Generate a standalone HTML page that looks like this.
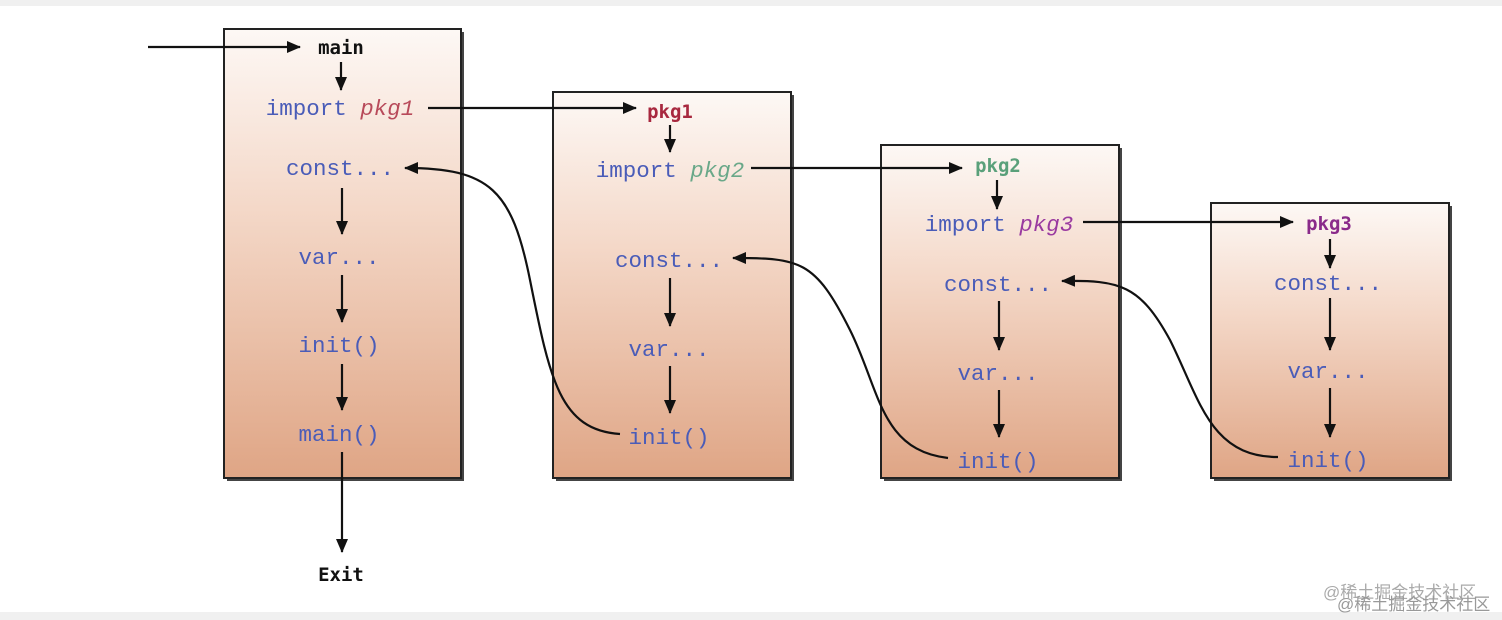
<!DOCTYPE html>
<html><head><meta charset="utf-8"><style>
body{margin:0;width:1502px;height:620px;background:#fff;overflow:hidden;position:relative}
svg{position:absolute;left:0;top:0}
text{font-family:"Liberation Mono","DejaVu Sans Mono",monospace;font-size:22.5px}
.b{fill:#4a5cb8}
.k{fill:#111;font-weight:bold;font-family:"DejaVu Sans Mono",monospace;font-size:19px}
</style></head><body>
<svg width="1502" height="620" viewBox="0 0 1502 620">
<defs>
<linearGradient id="g" x1="0" y1="0" x2="0" y2="1">
<stop offset="0" stop-color="#fdf8f5"/><stop offset="0.4" stop-color="#f4d8c8"/><stop offset="1" stop-color="#dfa585"/>
</linearGradient>
<marker id="a" markerWidth="10" markerHeight="10" refX="9" refY="5" orient="auto" markerUnits="userSpaceOnUse" viewBox="0 0 10 10">
<path d="M0,0 L10,5 L0,10 z" fill="#111"/></marker>
<marker id="a2" markerWidth="14" markerHeight="12" refX="13" refY="6" orient="auto" markerUnits="userSpaceOnUse" viewBox="0 0 14 12">
<path d="M0,0 L14,6 L0,12 z" fill="#111"/></marker>
</defs>
<rect x="0" y="0" width="1502" height="6" fill="#f0f0f0"/>
<rect x="0" y="612" width="1502" height="8" fill="#f0f0f0"/>
<g stroke="#222" stroke-width="2">
<rect x="227" y="32" width="237" height="449" fill="#444" stroke="none"/>
<rect x="224" y="29" width="237" height="449" fill="url(#g)"/>
<rect x="556" y="95" width="238" height="386" fill="#444" stroke="none"/>
<rect x="553" y="92" width="238" height="386" fill="url(#g)"/>
<rect x="884" y="148" width="238" height="333" fill="#444" stroke="none"/>
<rect x="881" y="145" width="238" height="333" fill="url(#g)"/>
<rect x="1214" y="206" width="238" height="275" fill="#444" stroke="none"/>
<rect x="1211" y="203" width="238" height="275" fill="url(#g)"/>
</g>
<g stroke="#111" stroke-width="2.2" fill="none">
<line x1="148" y1="47" x2="300" y2="47" marker-end="url(#a2)"/>
<line x1="341" y1="62" x2="341" y2="90" marker-end="url(#a2)"/>
<line x1="342" y1="188" x2="342" y2="234" marker-end="url(#a2)"/>
<line x1="342" y1="275" x2="342" y2="322" marker-end="url(#a2)"/>
<line x1="342" y1="364" x2="342" y2="410" marker-end="url(#a2)"/>
<line x1="342" y1="452" x2="342" y2="552" marker-end="url(#a2)"/>
<line x1="428" y1="108" x2="636" y2="108" marker-end="url(#a2)"/>
<line x1="670" y1="125" x2="670" y2="152" marker-end="url(#a2)"/>
<line x1="670" y1="278" x2="670" y2="326" marker-end="url(#a2)"/>
<line x1="670" y1="366" x2="670" y2="413" marker-end="url(#a2)"/>
<line x1="751" y1="168" x2="962" y2="168" marker-end="url(#a2)"/>
<line x1="997" y1="180" x2="997" y2="209" marker-end="url(#a2)"/>
<line x1="999" y1="301" x2="999" y2="350" marker-end="url(#a2)"/>
<line x1="999" y1="390" x2="999" y2="437" marker-end="url(#a2)"/>
<line x1="1083" y1="222" x2="1293" y2="222" marker-end="url(#a2)"/>
<line x1="1330" y1="239" x2="1330" y2="268" marker-end="url(#a2)"/>
<line x1="1330" y1="298" x2="1330" y2="350" marker-end="url(#a2)"/>
<line x1="1330" y1="388" x2="1330" y2="437" marker-end="url(#a2)"/>
<path d="M620,434 C560,430 550,380 530,280 C512,190 490,168 405,168" marker-end="url(#a2)"/>
<path d="M948,458 C880,450 880,390 850,330 C815,260 800,258 733,258" marker-end="url(#a2)"/>
<path d="M1278,457 C1210,457 1200,400 1170,340 C1140,285 1120,280 1062,281" marker-end="url(#a2)"/>
</g>
<text x="341" y="54" text-anchor="middle" class="k">main</text>
<text x="340" y="115" text-anchor="middle" class="b">import <tspan fill="#b84a5a" font-style="italic">pkg1</tspan></text>
<text x="340" y="175" text-anchor="middle" class="b">const...</text>
<text x="339" y="264" text-anchor="middle" class="b">var...</text>
<text x="339" y="352" text-anchor="middle" class="b">init()</text>
<text x="339" y="441" text-anchor="middle" class="b">main()</text>
<text x="341" y="581" text-anchor="middle" class="k">Exit</text>

<text x="670" y="118" text-anchor="middle" class="k" style="fill:#a8283f">pkg1</text>
<text x="670" y="177" text-anchor="middle" class="b">import <tspan fill="#6aa889" font-style="italic">pkg2</tspan></text>
<text x="669" y="267" text-anchor="middle" class="b">const...</text>
<text x="669" y="356" text-anchor="middle" class="b">var...</text>
<text x="669" y="444" text-anchor="middle" class="b">init()</text>

<text x="998" y="172" text-anchor="middle" class="k" style="fill:#5aa07a">pkg2</text>
<text x="999" y="231" text-anchor="middle" class="b">import <tspan fill="#9a3aa0" font-style="italic">pkg3</tspan></text>
<text x="998" y="291" text-anchor="middle" class="b">const...</text>
<text x="998" y="380" text-anchor="middle" class="b">var...</text>
<text x="998" y="468" text-anchor="middle" class="b">init()</text>

<text x="1329" y="230" text-anchor="middle" class="k" style="fill:#8a2a8a">pkg3</text>
<text x="1328" y="290" text-anchor="middle" class="b">const...</text>
<text x="1328" y="378" text-anchor="middle" class="b">var...</text>
<text x="1328" y="467" text-anchor="middle" class="b">init()</text>

<text x="1323" y="598" style="font-family:'Liberation Sans','Noto Sans CJK SC',sans-serif;font-size:17px;fill:#aaa">@稀土掘金技术社区</text>
<text x="1337" y="610" style="font-family:'Liberation Sans','Noto Sans CJK SC',sans-serif;font-size:17px;fill:#999">@稀土掘金技术社区</text>
</svg>
</body></html>
